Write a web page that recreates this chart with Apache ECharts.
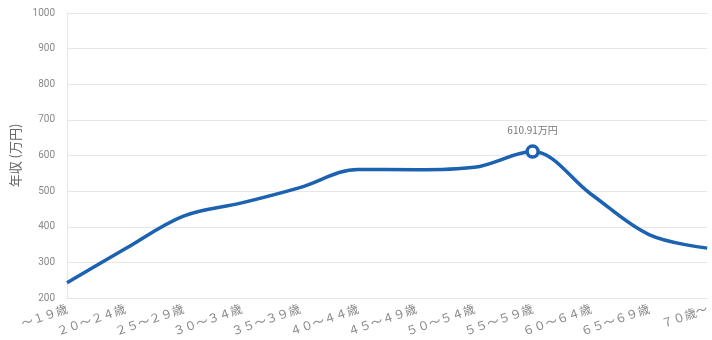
<!DOCTYPE html>
<html><head><meta charset="utf-8">
<script src="https://cdn.jsdelivr.net/npm/echarts@6/dist/echarts.min.js"></script>
<style>html,body{margin:0;padding:0;background:#fff}#c{width:712px;height:340px}</style>
</head><body><div id="c"></div>
<script>
const categories = ['～１９歳','２０～２４歳','２５～２９歳','３０～３４歳','３５～３９歳','４０～４４歳','４５～４９歳','５０～５４歳','５５～５９歳','６０～６４歳','６５～６９歳','７０歳～'];
const incomes = [243, 338, 430, 467, 510, 561, 560, 567, 610.91, 492, 378, 340];
const highlightIndex = 8;
const yTicks = {min: 200, max: 1000, interval: 100};
const yName = '年収 (万円)';

const chart = echarts.init(document.getElementById('c'));
chart.setOption({
  animation: false,
  grid: {left: 67, right: 4, top: 13, bottom: 42},
  xAxis: {
    type: 'category', data: categories, boundaryGap: false,
    axisLine: {show: true, lineStyle: {color: '#e6e6e6'}},
    axisTick: {show: false},
    axisLabel: {rotate: 19, color: '#888', fontSize: 12, margin: 10,
      fontFamily: '"Noto Sans CJK JP", sans-serif', interval: 0},
    splitLine: {show: false}
  },
  yAxis: {
    type: 'value', min: yTicks.min, max: yTicks.max, interval: yTicks.interval,
    name: yName, nameLocation: 'middle', nameGap: 40, nameRotate: 90,
    nameTextStyle: {color: '#666', fontSize: 13, fontFamily: '"Noto Sans CJK JP", sans-serif'},
    axisLine: {show: true, lineStyle: {color: '#e6e6e6'}},
    axisTick: {show: false},
    axisLabel: {color: '#888', fontSize: 10, margin: 12, fontFamily: 'Roboto, sans-serif',
      formatter: v => String(v)},
    splitLine: {lineStyle: {color: '#e6e6e6'}}
  },
  series: [{
    type: 'line', smooth: 0.35, symbol: 'none',
    lineStyle: {color: '#1b63b0', width: 3.5},
    itemStyle: {color: '#fff', borderColor: '#1b63b0', borderWidth: 3.5},
    data: incomes.map((v, i) => i === highlightIndex ? {
      value: v, symbol: 'circle', symbolSize: 11,
      label: {show: true, position: 'top', distance: 9, formatter: '{c}万円',
        color: '#777', fontSize: 10, fontFamily: '"Noto Sans CJK JP", sans-serif'}
    } : v)
  }]
});
</script></body></html>
